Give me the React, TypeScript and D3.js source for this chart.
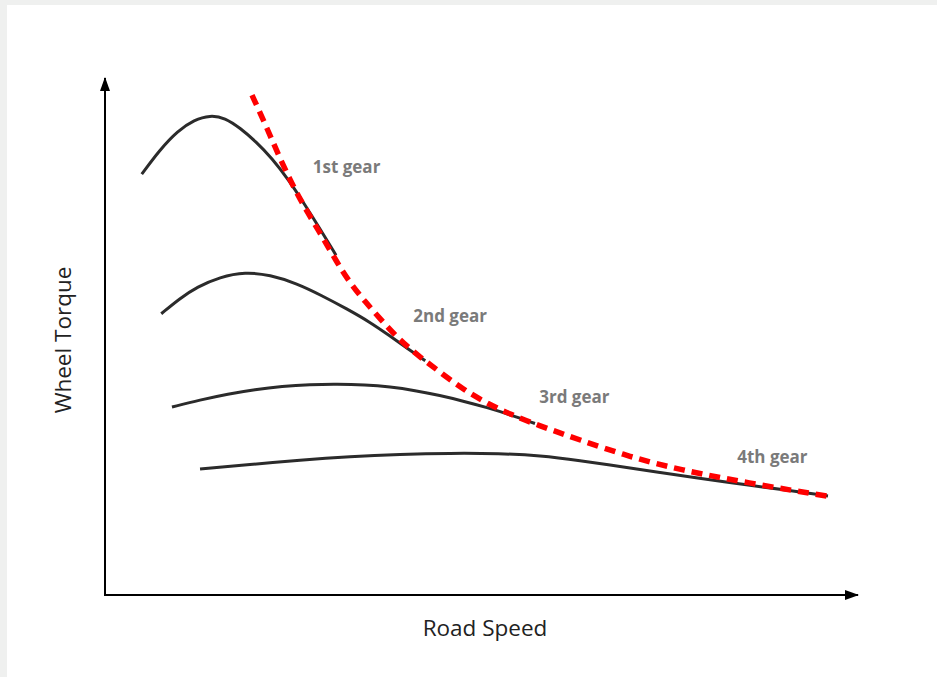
import React from "react";
import * as d3 from "d3";

type P = [number, number];

const gear1: P[] = [
  [4.9, 81.4], [7.3, 86.1], [9.7, 89.8], [11.9, 91.9], [14.0, 92.8], [16.0, 92.3],
  [18.0, 90.33], [20.13, 87.7], [22.27, 84.45], [24.4, 80.43], [26.53, 75.78], [28.67, 70.83], [30.8, 65.73],
];
const gear2: P[] = [
  [7.5, 54.4], [10.0, 57.4], [12.3, 59.6], [15.3, 61.5], [18.7, 62.5], [22.0, 61.9],
  [25.5, 60.3], [28.8, 58.0], [32.3, 55.3], [35.3, 52.8], [38.0, 50.1], [40.4, 47.6], [42.7, 45.3],
];
const gear3: P[] = [
  [8.93, 36.36], [12.67, 37.72], [16.4, 38.88], [20.0, 39.75], [23.6, 40.37], [27.33, 40.72],
  [30.93, 40.81], [34.67, 40.66], [38.0, 40.27], [41.33, 39.56], [44.67, 38.59], [47.73, 37.52],
  [50.93, 36.27], [54.13, 34.82], [57.33, 33.17],
];
const gear4: P[] = [
  [12.67, 24.37], [19.33, 25.24], [26.0, 26.11], [32.67, 26.79], [39.33, 27.21], [46.0, 27.43],
  [52.67, 27.37], [58.0, 26.98], [63.33, 26.02], [68.67, 24.85], [74.0, 23.69], [79.33, 22.57],
  [85.6, 21.28], [91.33, 20.21], [96.4, 19.15],
];
const envelope: P[] = [
  [19.6, 96.7], [21.6, 90.3], [23.7, 83.2], [26.0, 76.4], [28.7, 70.0], [30.9, 64.4],
  [32.7, 60.3], [34.7, 56.7], [36.7, 53.4], [39.3, 49.3], [42.0, 46.0], [44.7, 43.1],
  [47.7, 39.8], [51.3, 36.8], [54.0, 35.0], [57.6, 32.9], [63.3, 30.0], [70.0, 26.7],
  [76.7, 24.2], [85.6, 21.7], [96.4, 19.1],
];

const gearNames = ["1st gear", "2nd gear", "3rd gear", "4th gear"];
const gearLabelX = [27.7, 41.1, 57.9, 84.3];
const gearLabelY = [81.6, 52.8, 37.1, 25.5];

const xTitle = "Road Speed";
const yTitle = "Wheel Torque";

const W = 937;
const H = 677;

export default function App() {
  const x = d3.scaleLinear().domain([0, 100]).range([105, 855]);
  const y = d3.scaleLinear().domain([0, 100]).range([595, 78]);
  const line = d3
    .line<P>()
    .x((d) => x(d[0]))
    .y((d) => y(d[1]))
    .curve(d3.curveBasis);

  const gears = [gear1, gear2, gear3, gear4];
  const x0 = x(0);
  const y0 = y(0);

  return (
    <div style={{ position: "absolute", left: 0, top: 0 }}>
      <svg width={W} height={H} style={{ display: "block" }}>
        <defs>
          <marker id="arrow" viewBox="0 0 14 10" refX="13" refY="5" markerWidth="14" markerHeight="10" markerUnits="userSpaceOnUse" orient="auto">
            <path d="M0,0 L14,5 L0,10 Z" fill="#000" />
          </marker>
        </defs>
        <rect x={0} y={0} width={W} height={H} fill="#eff0ef" />
        <rect x={7} y={5} width={W - 7} height={H - 5} fill="#ffffff" />

        {gears.map((g, i) => (
          <path key={i} d={line(g) || ""} fill="none" stroke="#2b2b2b" strokeWidth={3} />
        ))}
        <path d={line(envelope) || ""} fill="none" stroke="#ff0000" strokeWidth={5.5} strokeDasharray="11 7" />

        <line x1={x0} y1={y0 + 1} x2={x0} y2={y(100)} stroke="#000" strokeWidth={2} markerEnd="url(#arrow)" />
        <line x1={x0 - 1} y1={y0} x2={x(100) + 3} y2={y0} stroke="#000" strokeWidth={2} markerEnd="url(#arrow)" />

        {gearNames.map((t, i) => (
          <text key={t} x={x(gearLabelX[i])} y={y(gearLabelY[i])} fill="#7a7a7a" fontFamily="'Open Sans', sans-serif" fontWeight={700} fontSize={17}>
            {t}
          </text>
        ))}

        <text x={485} y={636} textAnchor="middle" fill="#222" fontFamily="'Open Sans', sans-serif" fontSize={22.5}>
          {xTitle}
        </text>
        <text transform={`translate(71,340) rotate(-90)`} textAnchor="middle" fill="#222" fontFamily="'Open Sans', sans-serif" fontSize={22.5}>
          {yTitle}
        </text>
      </svg>
    </div>
  );
}
